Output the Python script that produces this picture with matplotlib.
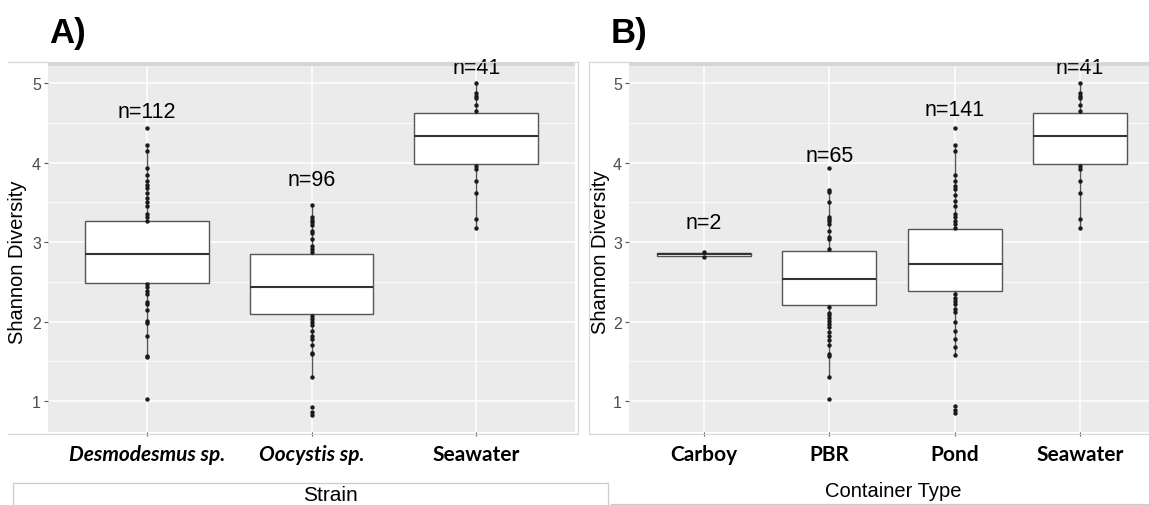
import matplotlib.pyplot as plt
from matplotlib.patches import Rectangle
from matplotlib.lines import Line2D
import numpy as np

# Panel A: by strain
strain_names = ["Desmodesmus sp.", "Oocystis sp.", "Seawater"]
strain_q1 = [2.49, 2.09, 3.98]
strain_med = [2.85, 2.43, 4.34]
strain_q3 = [3.26, 2.85, 4.62]
strain_wlo = [1.55, 1.30, 3.18]
strain_whi = [4.22, 3.46, 5.00]
strain_points = [
    [4.43, 4.22, 4.14, 3.93, 3.84, 3.77, 3.72, 3.68, 3.62, 3.55, 3.51, 3.45, 3.35, 3.31, 3.27,
     2.47, 2.43, 2.39, 2.35, 2.25, 2.22, 2.14, 2.01, 1.98, 1.82, 1.57, 1.55, 1.02],
    [3.46, 3.31, 3.28, 3.25, 3.21, 3.14, 3.12, 3.04, 2.95, 2.91, 2.88,
     2.07, 2.03, 1.99, 1.95, 1.88, 1.82, 1.78, 1.70, 1.61, 1.59, 1.30, 0.92, 0.86, 0.82],
    [5.00, 4.87, 4.84, 4.81, 4.73, 4.65, 3.96, 3.92, 3.77, 3.62, 3.29, 3.18],
]
strain_n = [112, 96, 41]
strain_n_y = [4.64, 3.79, 5.195]

# Panel B: by container type
container_names = ["Carboy", "PBR", "Pond", "Seawater"]
container_q1 = [2.83, 2.21, 2.38, 3.98]
container_med = [2.845, 2.54, 2.72, 4.34]
container_q3 = [2.86, 2.89, 3.16, 4.62]
container_wlo = [2.81, 1.30, 1.58, 3.18]
container_whi = [2.88, 3.66, 4.22, 5.00]
container_points = [
    [2.88, 2.81],
    [3.93, 3.66, 3.63, 3.50, 3.31, 3.29, 3.26, 3.23, 3.14, 3.06, 3.04, 2.91,
     2.18, 2.11, 2.08, 2.05, 2.01, 1.97, 1.93, 1.87, 1.82, 1.77, 1.70, 1.59, 1.56, 1.30, 1.02],
    [4.43, 4.22, 4.14, 3.84, 3.77, 3.71, 3.67, 3.59, 3.52, 3.45, 3.35, 3.31, 3.27, 3.23, 3.18,
     2.35, 2.30, 2.26, 2.22, 2.16, 2.12, 1.99, 1.88, 1.78, 1.68, 1.58, 0.94, 0.89, 0.85],
    [5.00, 4.87, 4.84, 4.81, 4.73, 4.65, 3.96, 3.92, 3.77, 3.62, 3.29, 3.18],
]
container_n = [2, 65, 141, 41]
container_n_y = [3.25, 4.085, 4.67, 5.195]

W, H = 1149, 506
fig = plt.figure(figsize=(W / 100, H / 100), dpi=100)


def fx(x):
    return x / W


def fy(y):
    return 1 - y / H


def draw_panel(ax, names, q1, med, q3, wlo, whi, points, n, n_y, italic):
    stats = []
    for i in range(len(names)):
        stats.append(dict(med=med[i], q1=q1[i], q3=q3[i], whislo=wlo[i], whishi=whi[i], fliers=[]))
    pos = np.arange(len(names))
    ax.set_facecolor("#EBEBEB")
    ax.bxp(stats, positions=pos, widths=0.75, patch_artist=True, showcaps=False,
           manage_ticks=False,
           boxprops=dict(facecolor="white", edgecolor="#555555", linewidth=1.0),
           whiskerprops=dict(color="#555555", linewidth=1.0),
           medianprops=dict(color="#333333", linewidth=1.5))
    ax.set_ylim(0.61, 5.215)
    ax.set_xlim(-0.6, len(names) - 0.4)
    ax.set_yticks([1, 2, 3, 4, 5])
    ax.set_yticks([1.5, 2.5, 3.5, 4.5], minor=True)
    ax.set_xticks(pos)
    ax.grid(True, which="major", color="white", linewidth=1.1)
    ax.grid(True, which="minor", axis="y", color="white", linewidth=0.55)
    ax.set_axisbelow(True)
    for i, pts in enumerate(points):
        ax.scatter(np.full(len(pts), pos[i]), pts, s=10, color="#1a1a1a", zorder=4, linewidths=0)
        ax.text(pos[i], n_y[i], "n=%d" % n[i], ha="center", va="center", fontsize=15.5,
                family="Liberation Sans", color="black", zorder=6, clip_on=False)
    for s in ax.spines.values():
        s.set_visible(False)
    ax.tick_params(axis="y", which="major", length=3, color="#555555", labelcolor="#4D4D4D",
                   labelsize=11.5, pad=2)
    ax.tick_params(axis="y", which="minor", length=0)
    ax.tick_params(axis="x", length=3, color="#555555", pad=6)
    for lab in ax.get_yticklabels():
        lab.set_family("Liberation Sans")
    ax.set_xticklabels(names, fontweight="bold", fontstyle="italic" if italic else "normal",
                       family="Lato", fontsize=15)
    if italic:
        for lab in ax.get_xticklabels():
            if lab.get_text() == "Seawater":
                lab.set_fontstyle("normal")
    # darker strip along the top
    ax.add_patch(Rectangle((0, 1), 1, 4 / 366, transform=ax.transAxes, facecolor="#D6D6D6",
                           edgecolor="none", clip_on=False, zorder=1))


axA = fig.add_axes([fx(48), fy(433), fx(575) - fx(48), fy(67) - fy(433)])
draw_panel(axA, strain_names, strain_q1, strain_med, strain_q3, strain_wlo, strain_whi,
           strain_points, strain_n, strain_n_y, True)

axB = fig.add_axes([fx(629), fy(433), 4.2 * 125.3 / W, fy(67) - fy(433)])
draw_panel(axB, container_names, container_q1, container_med, container_q3, container_wlo,
           container_whi, container_points, container_n, container_n_y, False)

# y labels
fig.text(fx(18), fy(262), "Shannon Diversity", rotation=90, ha="center", va="center",
         fontsize=14.5, family="Liberation Sans")
fig.text(fx(601), fy(252), "Shannon Diversity", rotation=90, ha="center", va="center",
         fontsize=14.5, family="Liberation Sans")

# panel letters
fig.text(fx(49), fy(33), "A)", ha="left", va="center", fontsize=25, fontweight="bold",
         family="Liberation Sans")
fig.text(fx(611), fy(33), "B)", ha="left", va="center", fontsize=25, fontweight="bold",
         family="Liberation Sans")

# light frame lines around the pasted panels
frame = "#D8D8D8"
for xs, ys in [([8, 578], [63, 63]), ([578, 578], [63, 435]), ([8, 578], [435, 435]),
               ([589, 1149], [63, 63]), ([589, 589], [63, 435]), ([589, 1149], [435, 435])]:
    fig.add_artist(Line2D([fx(v) for v in xs], [fy(v) for v in ys], color=frame, linewidth=0.9))

# caption boxes
fig.add_artist(Rectangle((fx(13), fy(512)), fx(608) - fx(13), fy(484) - fy(512),
                         facecolor="white", edgecolor="#CCCCCC", linewidth=0.9))
fig.add_artist(Rectangle((fx(611), fy(505)), fx(1150) - fx(611), fy(476) - fy(505),
                         facecolor="white", edgecolor="none"))
fig.add_artist(Line2D([fx(611), fx(1149)], [fy(505), fy(505)], color="#CCCCCC", linewidth=0.9))
fig.text(fx(330), fy(496), "Strain", ha="center", va="center", fontsize=15,
         family="Liberation Sans")
fig.text(fx(893), fy(492), "Container Type", ha="center", va="center", fontsize=14.5,
         family="Liberation Sans")

fig.savefig("out.png", dpi=100)
